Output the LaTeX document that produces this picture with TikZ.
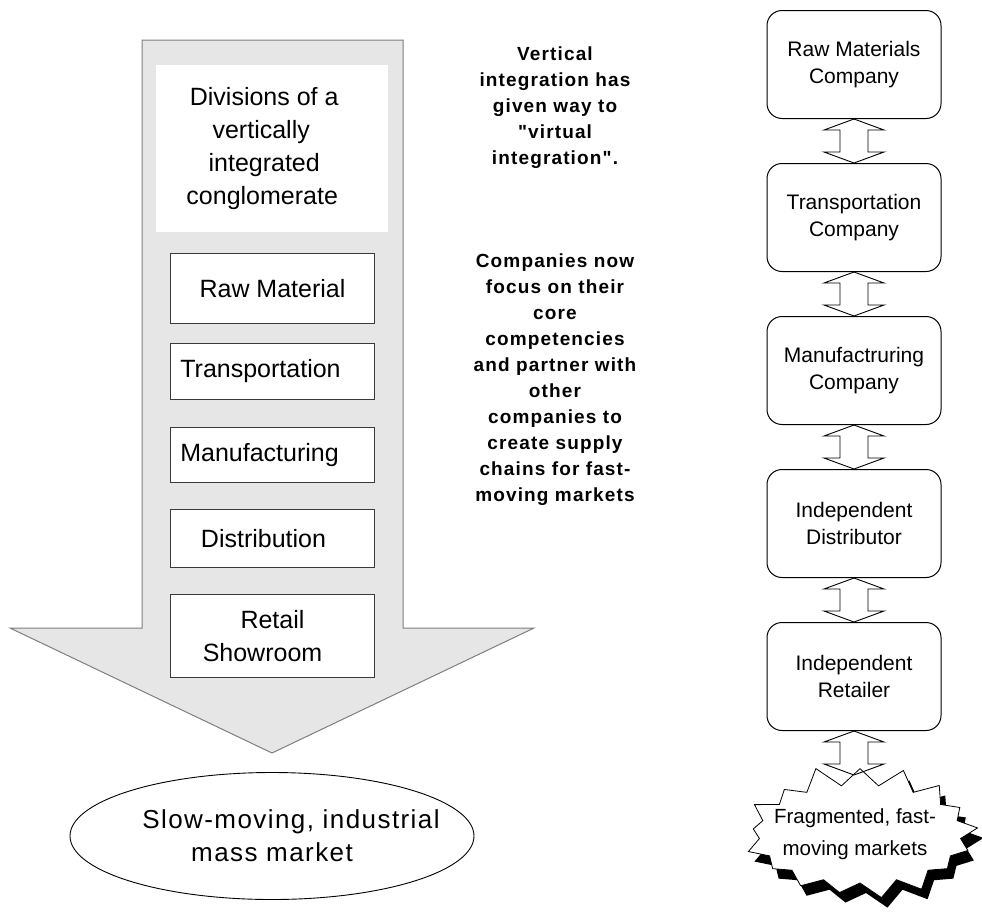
\documentclass[tikz,border=0pt]{standalone}
\usepackage{fontspec}
\setmainfont{Liberation Sans}
\newfontfamily\widefont[LetterSpace=5.5]{Liberation Sans}
\newfontfamily\notefont[LetterSpace=6]{Liberation Sans}
\usetikzlibrary{calc,shapes.geometric,shapes.symbols,shadows}

\definecolor{shaftfill}{HTML}{E6E6E6}
\definecolor{shaftedge}{HTML}{7F7F7F}
\definecolor{boxedge}{HTML}{3A3A3A}

% invisible padding that nudges a centred line to the left
\newcommand\pad[1]{\rule{#1}{0pt}}

\tikzset{
  division/.style={draw=boxedge, line width=1pt, fill=white, inner sep=0pt,
    anchor=north west, minimum width=204pt, align=center,
    font=\fontsize{25}{33}\selectfont},
  company/.style={draw, line width=1pt, rounded corners=15pt, fill=white,
    inner sep=0pt, minimum width=174pt, minimum height=108pt, anchor=north,
    align=center, font=\fontsize{21}{27}\selectfont},
  note/.style={align=center, inner sep=0pt,
    font=\notefont\bfseries\fontsize{19}{26}\selectfont},
  linkstyle/.style={draw, line width=0.9pt, line join=miter},
}

% hollow two-headed block arrow between two points (top, bottom)
\newcommand\linkarrow[2]{%
  \draw[linkstyle] #1 -- ++(30,11) -- ++(-16,0) -- ($#2+(14,-11)$)
    -- ++(16,0) -- #2 -- ++(-30,-11) -- ++(16,0)
    -- ($#1+(-14,11)$) -- ++(-16,0) -- cycle;}

\begin{document}
\begin{tikzpicture}[x=1pt,y=-1pt]
\useasboundingbox (0,0) rectangle (982,911);

% broad downward arrow holding the divisions
\coordinate (sh-tl) at (142,40);
\coordinate (sh-tr) at (403,40);
\coordinate (hd-r)  at (534,628);
\coordinate (hd-l)  at (10,628);
\coordinate (tip)   at (272,753);
\draw[fill=shaftfill, draw=shaftedge, line width=1pt]
  (sh-tl) -- (sh-tr) -- (sh-tr |- hd-r) -- (hd-r) -- (tip) -- (hd-l)
  -- (sh-tl |- hd-l) -- cycle;

\node[fill=white, inner sep=0pt, minimum width=232pt, minimum height=167pt,
      anchor=north west] (title) at (156,65) {};
\node[align=center, inner sep=0pt, font=\fontsize{25}{33}\selectfont]
  (title-text) at ([xshift=-8pt]title.center)
  {Divisions of a\\vertically\pad{6pt}\\integrated\\conglomerate\pad{4pt}};

\node[division, minimum height=70pt] (raw) at (170,253) {Raw Material};
\node[division, minimum height=56pt] (trans) at (170,343) {Transportation\pad{24pt}};
\node[division, minimum height=55pt] (manu) at (170,427) {Manufacturing\pad{26pt}};
\node[division, minimum height=58pt] (dist) at (170,509) {Distribution\pad{18pt}};
\node[division, minimum height=83pt] (retail) at (170,594) {Retail\\Showroom\pad{20pt}};

\node[draw, line width=0.9pt, ellipse, minimum width=404pt, minimum height=127pt,
      inner sep=0pt] (mass) at (272,836) {};
\node[align=center, inner sep=0pt, font=\widefont\fontsize{26}{33}\selectfont]
  (mass-text) at (mass.center) {\pad{38pt}Slow-moving, industrial\\mass market};

% explanatory notes
\node[note] (n1) at (555,108)
  {Vertical\\integration has\\given way to\\"virtual\\integration".};
\node[note] (n2) at (555,380)
  {Companies now\\focus on their\\core\\competencies\\and partner with\\other\\companies to\\create supply\\chains for fast-\\moving markets};

% chain of independent companies
\node[company] (c1) at (854,10)  {Raw Materials\\Company};
\node[company] (c2) at (854,163) {Transportation\\Company};
\node[company] (c3) at (854,316) {Manufactruring\\Company};
\node[company] (c4) at (854,469) {Independent\\Distributor};
\node[company] (c5) at (854,622) {Independent\\Retailer};

\node[starburst, starburst points=17, starburst point height=22pt,
      random starburst=11, draw, line width=0.8pt, fill=white,
      minimum width=246pt, minimum height=142pt, inner sep=0pt,
      drop shadow={shadow xshift=6pt, shadow yshift=-10pt, fill=black, opacity=1}]
  (frag) at (860,834) {};
\node[align=center, inner sep=0pt, font=\fontsize{20.5}{32}\selectfont]
  (frag-text) at (855,834) {Fragmented, fast-\\moving markets};
\coordinate (frag-top) at (854,775);

\linkarrow{(c1.south)}{(c2.north)}
\linkarrow{(c2.south)}{(c3.north)}
\linkarrow{(c3.south)}{(c4.north)}
\linkarrow{(c4.south)}{(c5.north)}
\linkarrow{(c5.south)}{(frag-top)}
\end{tikzpicture}
\end{document}
